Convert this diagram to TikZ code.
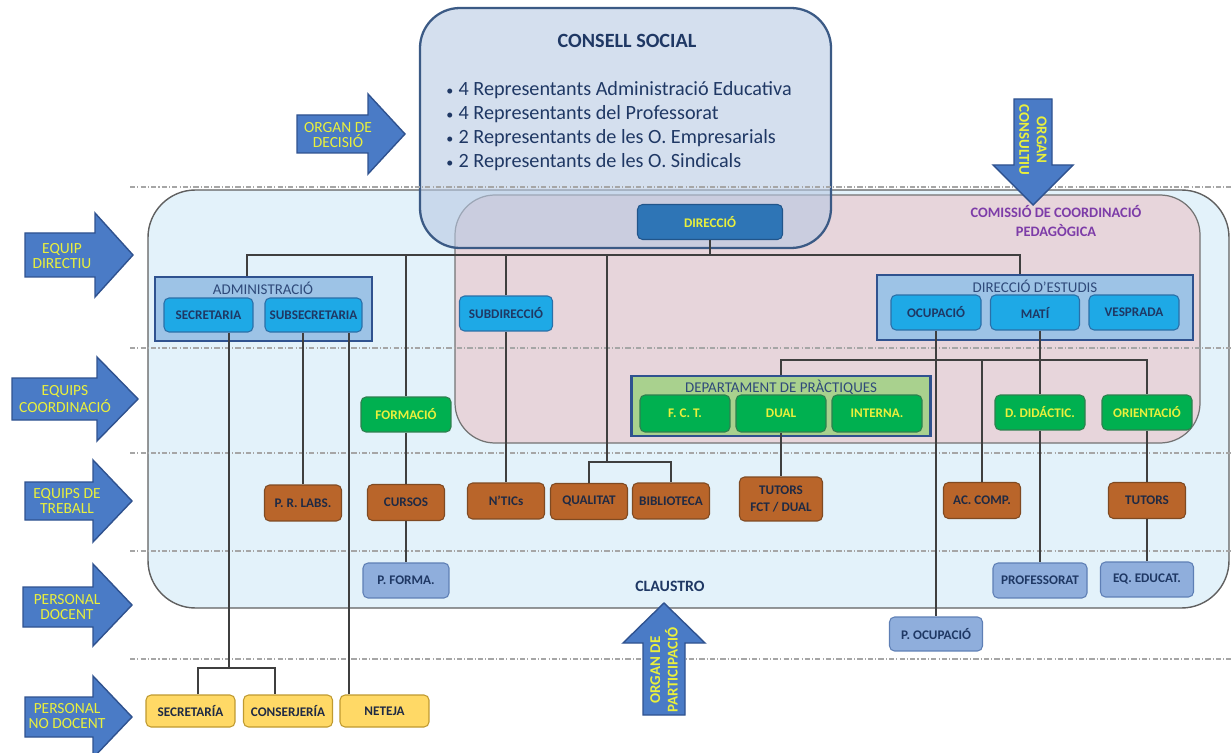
\documentclass[tikz,border=0pt]{standalone}
\usepackage{fontspec}
\setmainfont{Carlito}

\definecolor{bigfill}{HTML}{E3F2FA}
\definecolor{pinkfill}{HTML}{E7D5DB}
\definecolor{consellfill}{HTML}{B8C9E3}
\definecolor{consellline}{HTML}{3B5A85}
\definecolor{navytxt}{HTML}{1F3864}
\definecolor{darktxt}{HTML}{1F2A44}
\definecolor{titletxt}{HTML}{2F4A7A}
\definecolor{yellowtxt}{HTML}{EAF03C}
\definecolor{purpletxt}{HTML}{7D3CA8}
\definecolor{unitfill}{HTML}{1EA9E6}
\definecolor{unitline}{HTML}{2A6FA8}
\definecolor{headfill}{HTML}{2E75B6}
\definecolor{headline}{HTML}{21558A}
\definecolor{greenfill}{HTML}{00B050}
\definecolor{greenline}{HTML}{2F7F4F}
\definecolor{brownfill}{HTML}{B9652A}
\definecolor{brownline}{HTML}{7F4A22}
\definecolor{stafffill}{HTML}{8FAEDC}
\definecolor{staffline}{HTML}{5E7FB5}
\definecolor{yellowfill}{HTML}{FFD966}
\definecolor{yellowline}{HTML}{BF9A30}
\definecolor{groupfill}{HTML}{9DC3E6}
\definecolor{groupline}{HTML}{2F528F}
\definecolor{deptfill}{HTML}{A9D18E}
\definecolor{arrowfill}{HTML}{4A7BC6}
\definecolor{arrowline}{HTML}{2F528F}
\definecolor{linegray}{HTML}{3F3F3F}

\newcommand{\smallbullet}{{\fontsize{8}{8}\selectfont•}\hspace{3pt}}

\begin{document}
\begin{tikzpicture}[x=0.02cm,y=-0.02cm,
  link/.style={draw=linegray, line width=0.7pt},
  dashrule/.style={draw=gray!70, line width=0.6pt, dash pattern=on 3pt off 1.2pt on 0.6pt off 1.2pt},
  orgbox/.style={rounded corners=0.1cm, inner sep=0pt, align=center, line width=0.6pt, minimum width=1.8cm, minimum height=0.7cm, font=\fontsize{7.5}{10}\selectfont\bfseries},
  unitbox/.style={orgbox, draw=unitline, fill=unitfill, text=navytxt},
  headbox/.style={orgbox, draw=headline, fill=headfill, text=yellowtxt, minimum width=2.9cm},
  greenbox/.style={orgbox, draw=greenline, fill=greenfill, text=yellowtxt},
  workbox/.style={orgbox, draw=brownline, fill=brownfill, text=darktxt, minimum width=1.54cm, minimum height=0.72cm},
  staffbox/.style={orgbox, draw=staffline, fill=stafffill, text=navytxt, minimum width=1.86cm},
  supportbox/.style={orgbox, draw=yellowline, fill=yellowfill, text=darktxt, minimum width=1.78cm, minimum height=0.64cm},
  groupbox/.style={draw=groupline, fill=groupfill, line width=1.2pt, inner sep=0pt},
  grouptitle/.style={text=titletxt, font=\fontsize{8.5}{10}\selectfont, inner sep=0pt},
  sidearrow/.style={draw=arrowline, fill=arrowfill, line width=0.8pt},
  arrowtext/.style={text=yellowtxt, align=center, inner sep=0pt, font=\fontsize{8.8}{8.2}\selectfont},
  uparrowtext/.style={arrowtext, font=\fontsize{8.5}{10}\selectfont\bfseries}
]
\useasboundingbox (0,0) rectangle (1231,753);

% background areas
\draw[fill=bigfill, draw=gray!75!black, line width=0.8pt, rounded corners=0.95cm] (148,190) rectangle (1229,608);
\draw[fill=pinkfill, draw=gray!90!black, line width=0.7pt, rounded corners=0.8cm] (455,195) rectangle (1200,443);
\draw[fill=consellfill, fill opacity=0.6, draw=consellline, line width=1.3pt, rounded corners=0.8cm] (420,8) rectangle (831,248);

\draw[dashrule] (130,187) -- (1231,187);
\draw[dashrule] (130,348) -- (1231,348);
\draw[dashrule] (130,453) -- (1231,453);
\draw[dashrule] (130,551) -- (1231,551);
\draw[dashrule] (130,659) -- (1231,659);

\node[text=navytxt, inner sep=0pt, font=\fontsize{11.5}{14}\selectfont\bfseries] (consellTitle) at (627,41) {CONSELL SOCIAL};
\node[anchor=west, align=left, text=navytxt, inner sep=0pt, font=\fontsize{11.5}{13.7}\selectfont] (consellList) at (446,126) {\smallbullet 4 Representants Administració Educativa\\\smallbullet 4 Representants del Professorat\\\smallbullet 2 Representants de les O. Empresarials\\\smallbullet 2 Representants de les O. Sindicals};

% containers
\node[groupbox, minimum width=4.34cm, minimum height=1.28cm] (admin) at (263.5,309) {};
\node[grouptitle] (adminTitle) at (263,288) {ADMINISTRACIÓ};
\node[groupbox, minimum width=6.32cm, minimum height=1.3cm] (estudis) at (1035,307.5) {};
\node[grouptitle] (estudisTitle) at (1035,286) {DIRECCIÓ D’ESTUDIS};
\node[groupbox, fill=deptfill, minimum width=5.98cm, minimum height=1.2cm] (dept) at (781,406) {};
\node[grouptitle] (deptTitle) at (781,387) {DEPARTAMENT DE PRÀCTIQUES};

% connectors
\coordinate (busL) at (247,255);
\coordinate (busR) at (1020,255);
\coordinate (forkQ) at (607,462);
\coordinate (forkS) at (229,668);
\coordinate (busD) at (781,360);

\node[headbox] (direccio) at (710,222) {DIRECCIÓ};
\node[unitbox, minimum width=1.78cm, minimum height=0.68cm] (secretaria) at (208.5,315) {SECRETARIA};
\node[unitbox, minimum width=1.94cm, minimum height=0.68cm] (subsecretaria) at (313.5,315) {SUBSECRETARIA};
\node[unitbox, minimum width=1.86cm] (subdireccio) at (506,313.5) {SUBDIRECCIÓ};
\node[unitbox] (ocupacio) at (936,312.5) {OCUPACIÓ};
\node[unitbox, minimum width=1.78cm] (mati) at (1035,312.5) {MATÍ};
\node[unitbox] (vesprada) at (1134,312.5) {VESPRADA};

\node[greenbox, minimum height=0.74cm] (fct) at (685,413.5) {F. C. T.};
\node[greenbox, minimum height=0.74cm] (dual) at (781,413.5) {DUAL};
\node[greenbox, minimum height=0.74cm] (interna) at (877,413.5) {INTERNA.};
\node[greenbox] (formacio) at (406,414.5) {FORMACIÓ};
\node[greenbox] (didactic) at (1040,412.5) {D. DIDÁCTIC.};
\node[greenbox] (orientacio) at (1147,412.5) {ORIENTACIÓ};

\node[workbox] (prlabs) at (303,503) {P. R. LABS.};
\node[workbox] (cursos) at (406,502.5) {CURSOS};
\node[workbox] (ntics) at (506,501) {N’TICs};
\node[workbox] (qualitat) at (589,501.5) {QUALITAT};
\node[workbox] (biblio) at (671,501) {BIBLIOTECA};
\node[workbox, minimum width=1.66cm, minimum height=0.88cm] (tutorsfct) at (781,499) {TUTORS\\FCT / DUAL};
\node[workbox] (accomp) at (982,500.5) {AC. COMP.};
\node[workbox] (tutors) at (1147,500.5) {TUTORS};

\node[staffbox, minimum width=1.72cm] (pforma) at (406,580.5) {P. FORMA.};
\node[staffbox, minimum width=1.88cm] (professorat) at (1040,580.5) {PROFESSORAT};
\node[staffbox] (eqeducat) at (1147,579.5) {EQ. EDUCAT.};
\node[staffbox, minimum height=0.68cm] (pocupacio) at (936,634) {P. OCUPACIÓ};

\node[supportbox] (secretaria2) at (190.5,711) {SECRETARÍA};
\node[supportbox] (conserjeria) at (288,711) {CONSERJERÍA};
\node[supportbox] (neteja) at (384.5,711) {NETEJA};
\coordinate (netejaTop) at ([xshift=-0.71cm]neteja.north);

\draw[link] (direccio.south) -- (direccio.south |- busL);
\draw[link] (admin.north -| busL) -- (busL) -- (busR) -- (estudis.north -| busR);
\draw[link] (formacio.north) -- (formacio.north |- busL);
\draw[link] (formacio) -- (cursos);
\draw[link] (cursos) -- (pforma);
\draw[link] (subdireccio.north) -- (subdireccio.north |- busL);
\draw[link] (subdireccio) -- (ntics);
\draw[link] (forkQ |- busL) -- (forkQ);
\draw[link] (qualitat.north) |- (forkQ) -| (biblio.north);
\draw[link] (forkS |- secretaria.south) -- (forkS);
\draw[link] ([xshift=0.15cm]secretaria2.north) |- (forkS) -| ([xshift=-0.26cm]conserjeria.north);
\draw[link] (prlabs.north) -- (prlabs.north |- subsecretaria.south);
\draw[link] (netejaTop) -- (netejaTop |- subsecretaria.south);
\draw[link] (ocupacio) -- (pocupacio);
\draw[link] (dept.north) -- (busD) -- (busD -| orientacio.north) -- (orientacio.north);
\draw[link] (accomp.north) -- (accomp.north |- busD);
\draw[link] (didactic.north |- mati.south) -- (didactic.north);
\draw[link] (didactic) -- (professorat);
\draw[link] (orientacio) -- (tutors);
\draw[link] (tutors) -- (eqeducat);
\draw[link] (dual) -- (tutorsfct);

\node[text=navytxt, inner sep=0pt, font=\fontsize{9}{10}\selectfont\bfseries] (claustro) at (670,586) {CLAUSTRO};

% side arrows
\draw[sidearrow] (25,233) -- (95,233) -- (95,213) -- (133,255) -- (95,297) -- (95,277) -- (25,277) -- cycle;
\node[arrowtext] (txtDirectiu) at (62,256) {EQUIP\\DIRECTIU};
\draw[sidearrow] (12,378) -- (97,378) -- (97,357) -- (138,399) -- (97,441) -- (97,420) -- (12,420) -- cycle;
\node[arrowtext] (txtCoord) at (65,399) {EQUIPS\\COORDINACIÓ};
\draw[sidearrow] (25,482) -- (93,482) -- (93,460) -- (132,501) -- (93,542) -- (93,520) -- (25,520) -- cycle;
\node[arrowtext] (txtTreball) at (67,501) {EQUIPS DE\\TREBALL};
\draw[sidearrow] (23,587) -- (93,587) -- (93,564) -- (132,605) -- (93,646) -- (93,627) -- (23,627) -- cycle;
\node[arrowtext] (txtDocent) at (67,607) {PERSONAL\\DOCENT};
\draw[sidearrow] (25,697) -- (93,697) -- (93,676) -- (132,717) -- (93,758) -- (93,737) -- (25,737) -- cycle;
\node[arrowtext] (txtNoDocent) at (67,716) {PERSONAL\\NO DOCENT};
\draw[sidearrow] (297,115) -- (368,115) -- (368,94) -- (405,134) -- (368,174) -- (368,153) -- (297,153) -- cycle;
\node[arrowtext] (txtDecisio) at (338,135) {ORGAN DE\\DECISIÓ};

\draw[sidearrow] (1014,99) -- (1052,99) -- (1052,165) -- (1073,165) -- (1033,205) -- (993,165) -- (1014,165) -- cycle;
\node[uparrowtext, rotate=-90] (txtConsultiu) at (1033,140) {ORGAN\\CONSULTIU};
\draw[sidearrow] (643,715) -- (685,715) -- (685,643) -- (705,643) -- (664,603) -- (623,643) -- (643,643) -- cycle;
\node[uparrowtext, rotate=90] (txtParticipacio) at (664,670) {ORGAN DE\\PARTICIPACIÓ};

\node[align=center, text=purpletxt, inner sep=0pt, font=\fontsize{8.2}{10.4}\selectfont\bfseries] (comissio) at (1056,221) {COMISSIÓ DE COORDINACIÓ\\PEDAGÒGICA};
\end{tikzpicture}
\end{document}
